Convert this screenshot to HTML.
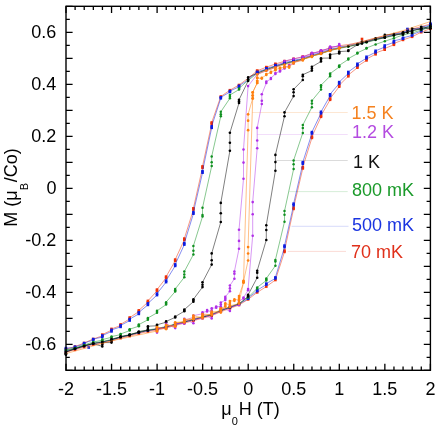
<!DOCTYPE html><html><head><meta charset="utf-8"><style>html,body{margin:0;padding:0;background:#fff}svg{display:block;will-change:transform}text{font-family:"Liberation Sans",sans-serif}</style></head><body>
<svg width="436" height="430" viewBox="0 0 436 430">
<rect width="436" height="430" fill="#fff"/>
<path d="M252.3 112.5H347.7" stroke="#fcdcc0" stroke-width="0.7" fill="none"/>
<path d="M257.2 134.5H347.7" stroke="#ecd0f8" stroke-width="0.7" fill="none"/>
<path d="M275.5 160.5H347.7" stroke="#cccccc" stroke-width="0.7" fill="none"/>
<path d="M289.4 191.6H347.7" stroke="#c4e6c8" stroke-width="0.7" fill="none"/>
<path d="M291.5 226.3H348.5" stroke="#c6ccf8" stroke-width="0.7" fill="none"/>
<path d="M287.8 251.4H346" stroke="#f9cdc4" stroke-width="0.7" fill="none"/>
<path d="M430.3 24.1 L421.2 26.6 L412.1 29.1 L403.0 31.4 L393.9 33.6 L384.8 35.6 L375.6 37.9 L366.5 40.3 L357.4 42.7 L348.3 44.6 L339.2 45.7 L330.1 47.9 L321.0 51.0 L311.9 53.5 L302.8 56.8 L293.6 59.0 L284.5 61.2 L275.4 64.0 L266.3 67.2 L257.2 70.8 L248.1 78.3 L239.0 85.0 L229.9 90.2 L220.8 96.5 L211.7 122.5 L211.7 123.8 L202.5 166.4 L202.5 167.8 L193.4 208.3 L193.4 209.7 L184.3 238.7 L184.3 239.9 L175.2 259.6 L175.2 260.9 L166.1 276.6 L166.1 277.9 L157.0 289.6 L157.0 290.9 L147.9 300.9 L147.9 302.2 L138.8 310.4 L138.8 311.6 L129.7 317.6 L129.7 318.9 L120.6 324.4 L120.6 325.6 L111.5 328.9 L111.5 330.2 L102.3 334.6 L102.3 335.9 L93.2 339.0 L84.1 343.0 L75.0 346.6 L65.9 349.2" stroke="#ee3008" stroke-width="0.5" fill="none" stroke-linejoin="round"/>
<path d="M65.9 352.0 L75.0 349.8 L84.1 347.0 L93.2 344.6 L102.3 343.0 L111.5 341.0 L120.6 338.1 L129.7 336.0 L138.8 333.5 L147.9 331.5 L157.0 330.0 L166.1 328.0 L175.2 325.5 L184.3 323.0 L193.4 320.7 L202.5 318.2 L211.7 315.8 L220.8 311.7 L229.9 308.4 L239.0 305.0 L248.1 299.4 L257.2 292.4 L266.3 286.6 L275.4 280.0 L284.5 251.9 L284.5 250.7 L293.6 208.9 L293.6 207.7 L302.8 168.4 L302.8 167.2 L311.9 137.9 L311.9 136.7 L321.0 116.8 L321.0 115.5 L330.1 99.8 L330.1 98.5 L339.2 86.7 L339.2 85.3 L348.3 76.2 L348.3 75.0 L357.4 67.7 L357.4 66.3 L366.5 60.4 L366.5 59.0 L375.6 54.2 L375.6 53.0 L384.8 49.6 L384.8 48.4 L393.9 44.8 L393.9 43.5 L403.0 39.9 L412.1 36.8 L421.2 32.2 L430.3 28.7" stroke="#ee3008" stroke-width="0.5" fill="none" stroke-linejoin="round"/>
<rect x="328.8" y="46.6" width="2.6" height="2.6" fill="#ee3008"/>
<rect x="319.7" y="49.7" width="2.6" height="2.6" fill="#ee3008"/>
<rect x="310.6" y="52.2" width="2.6" height="2.6" fill="#ee3008"/>
<rect x="301.5" y="55.5" width="2.6" height="2.6" fill="#ee3008"/>
<rect x="292.3" y="57.7" width="2.6" height="2.6" fill="#ee3008"/>
<rect x="283.2" y="59.9" width="2.6" height="2.6" fill="#ee3008"/>
<rect x="274.1" y="62.7" width="2.6" height="2.6" fill="#ee3008"/>
<rect x="265.0" y="65.9" width="2.6" height="2.6" fill="#ee3008"/>
<rect x="255.9" y="69.5" width="2.6" height="2.6" fill="#ee3008"/>
<rect x="237.7" y="83.7" width="2.6" height="2.6" fill="#ee3008"/>
<rect x="228.6" y="88.9" width="2.6" height="2.6" fill="#ee3008"/>
<rect x="219.5" y="95.2" width="2.6" height="2.6" fill="#ee3008"/>
<rect x="210.4" y="121.2" width="2.6" height="2.6" fill="#ee3008"/>
<rect x="210.4" y="122.5" width="2.6" height="2.6" fill="#ee3008"/>
<rect x="201.2" y="165.1" width="2.6" height="2.6" fill="#ee3008"/>
<rect x="201.2" y="166.4" width="2.6" height="2.6" fill="#ee3008"/>
<rect x="192.1" y="207.0" width="2.6" height="2.6" fill="#ee3008"/>
<rect x="192.1" y="208.3" width="2.6" height="2.6" fill="#ee3008"/>
<rect x="183.0" y="237.3" width="2.6" height="2.6" fill="#ee3008"/>
<rect x="183.0" y="238.6" width="2.6" height="2.6" fill="#ee3008"/>
<rect x="173.9" y="258.3" width="2.6" height="2.6" fill="#ee3008"/>
<rect x="173.9" y="259.6" width="2.6" height="2.6" fill="#ee3008"/>
<rect x="164.8" y="275.3" width="2.6" height="2.6" fill="#ee3008"/>
<rect x="164.8" y="276.6" width="2.6" height="2.6" fill="#ee3008"/>
<rect x="155.7" y="288.3" width="2.6" height="2.6" fill="#ee3008"/>
<rect x="155.7" y="289.6" width="2.6" height="2.6" fill="#ee3008"/>
<rect x="146.6" y="299.6" width="2.6" height="2.6" fill="#ee3008"/>
<rect x="146.6" y="300.9" width="2.6" height="2.6" fill="#ee3008"/>
<rect x="137.5" y="309.1" width="2.6" height="2.6" fill="#ee3008"/>
<rect x="137.5" y="310.3" width="2.6" height="2.6" fill="#ee3008"/>
<rect x="128.4" y="316.2" width="2.6" height="2.6" fill="#ee3008"/>
<rect x="128.4" y="317.6" width="2.6" height="2.6" fill="#ee3008"/>
<rect x="119.3" y="323.1" width="2.6" height="2.6" fill="#ee3008"/>
<rect x="119.3" y="324.3" width="2.6" height="2.6" fill="#ee3008"/>
<rect x="110.2" y="327.6" width="2.6" height="2.6" fill="#ee3008"/>
<rect x="110.2" y="328.9" width="2.6" height="2.6" fill="#ee3008"/>
<rect x="101.0" y="333.3" width="2.6" height="2.6" fill="#ee3008"/>
<rect x="101.0" y="334.6" width="2.6" height="2.6" fill="#ee3008"/>
<rect x="91.9" y="337.7" width="2.6" height="2.6" fill="#ee3008"/>
<rect x="82.8" y="341.7" width="2.6" height="2.6" fill="#ee3008"/>
<rect x="73.7" y="345.3" width="2.6" height="2.6" fill="#ee3008"/>
<rect x="64.6" y="347.9" width="2.6" height="2.6" fill="#ee3008"/>
<rect x="64.6" y="350.7" width="2.6" height="2.6" fill="#ee3008"/>
<rect x="73.7" y="348.5" width="2.6" height="2.6" fill="#ee3008"/>
<rect x="82.8" y="345.7" width="2.6" height="2.6" fill="#ee3008"/>
<rect x="91.9" y="343.3" width="2.6" height="2.6" fill="#ee3008"/>
<rect x="101.0" y="341.7" width="2.6" height="2.6" fill="#ee3008"/>
<rect x="110.2" y="339.7" width="2.6" height="2.6" fill="#ee3008"/>
<rect x="119.3" y="336.8" width="2.6" height="2.6" fill="#ee3008"/>
<rect x="128.4" y="334.7" width="2.6" height="2.6" fill="#ee3008"/>
<rect x="137.5" y="332.2" width="2.6" height="2.6" fill="#ee3008"/>
<rect x="146.6" y="330.2" width="2.6" height="2.6" fill="#ee3008"/>
<rect x="155.7" y="328.7" width="2.6" height="2.6" fill="#ee3008"/>
<rect x="164.8" y="326.7" width="2.6" height="2.6" fill="#ee3008"/>
<rect x="173.9" y="324.2" width="2.6" height="2.6" fill="#ee3008"/>
<rect x="183.0" y="321.7" width="2.6" height="2.6" fill="#ee3008"/>
<rect x="192.1" y="319.4" width="2.6" height="2.6" fill="#ee3008"/>
<rect x="201.2" y="316.9" width="2.6" height="2.6" fill="#ee3008"/>
<rect x="210.4" y="314.5" width="2.6" height="2.6" fill="#ee3008"/>
<rect x="219.5" y="310.4" width="2.6" height="2.6" fill="#ee3008"/>
<rect x="228.6" y="307.1" width="2.6" height="2.6" fill="#ee3008"/>
<rect x="237.7" y="303.7" width="2.6" height="2.6" fill="#ee3008"/>
<rect x="246.8" y="298.1" width="2.6" height="2.6" fill="#ee3008"/>
<rect x="255.9" y="291.1" width="2.6" height="2.6" fill="#ee3008"/>
<rect x="265.0" y="285.3" width="2.6" height="2.6" fill="#ee3008"/>
<rect x="274.1" y="278.7" width="2.6" height="2.6" fill="#ee3008"/>
<rect x="283.2" y="250.6" width="2.6" height="2.6" fill="#ee3008"/>
<rect x="283.2" y="249.3" width="2.6" height="2.6" fill="#ee3008"/>
<rect x="292.3" y="207.6" width="2.6" height="2.6" fill="#ee3008"/>
<rect x="292.3" y="206.3" width="2.6" height="2.6" fill="#ee3008"/>
<rect x="301.5" y="167.1" width="2.6" height="2.6" fill="#ee3008"/>
<rect x="301.5" y="165.8" width="2.6" height="2.6" fill="#ee3008"/>
<rect x="310.6" y="136.6" width="2.6" height="2.6" fill="#ee3008"/>
<rect x="310.6" y="135.3" width="2.6" height="2.6" fill="#ee3008"/>
<rect x="319.7" y="115.5" width="2.6" height="2.6" fill="#ee3008"/>
<rect x="319.7" y="114.2" width="2.6" height="2.6" fill="#ee3008"/>
<rect x="328.8" y="98.5" width="2.6" height="2.6" fill="#ee3008"/>
<rect x="328.8" y="97.2" width="2.6" height="2.6" fill="#ee3008"/>
<rect x="337.9" y="85.4" width="2.6" height="2.6" fill="#ee3008"/>
<rect x="337.9" y="84.0" width="2.6" height="2.6" fill="#ee3008"/>
<rect x="347.0" y="75.0" width="2.6" height="2.6" fill="#ee3008"/>
<rect x="347.0" y="73.7" width="2.6" height="2.6" fill="#ee3008"/>
<rect x="356.1" y="66.4" width="2.6" height="2.6" fill="#ee3008"/>
<rect x="356.1" y="65.0" width="2.6" height="2.6" fill="#ee3008"/>
<rect x="365.2" y="59.1" width="2.6" height="2.6" fill="#ee3008"/>
<rect x="365.2" y="57.8" width="2.6" height="2.6" fill="#ee3008"/>
<rect x="374.3" y="53.0" width="2.6" height="2.6" fill="#ee3008"/>
<rect x="374.3" y="51.7" width="2.6" height="2.6" fill="#ee3008"/>
<rect x="383.4" y="48.4" width="2.6" height="2.6" fill="#ee3008"/>
<rect x="383.4" y="47.1" width="2.6" height="2.6" fill="#ee3008"/>
<rect x="392.6" y="43.5" width="2.6" height="2.6" fill="#ee3008"/>
<rect x="392.6" y="42.2" width="2.6" height="2.6" fill="#ee3008"/>
<rect x="401.7" y="38.6" width="2.6" height="2.6" fill="#ee3008"/>
<rect x="410.8" y="35.5" width="2.6" height="2.6" fill="#ee3008"/>
<rect x="419.9" y="30.9" width="2.6" height="2.6" fill="#ee3008"/>
<rect x="429.0" y="27.4" width="2.6" height="2.6" fill="#ee3008"/>
<path d="M430.3 24.6 L430.3 25.4 L421.2 27.1 L421.2 27.9 L412.1 29.6 L412.1 30.4 L403.0 31.9 L403.0 32.7 L393.9 34.1 L393.9 34.9 L384.8 36.1 L384.8 36.9 L375.6 38.4 L375.6 39.2 L366.5 40.8 L366.5 41.6 L357.4 43.2 L357.4 44.0 L348.3 45.1 L348.3 45.9 L339.2 46.8 L339.2 47.6 L330.1 49.0 L330.1 49.8 L321.0 52.1 L321.0 52.9 L311.9 54.6 L311.9 55.4 L302.8 57.9 L302.8 58.7 L293.6 60.1 L293.6 60.9 L284.5 62.3 L284.5 63.1 L275.4 65.1 L275.4 65.9 L266.3 68.3 L266.3 69.1 L257.2 71.9 L257.2 72.7 L248.1 79.0 L248.1 80.0 L239.0 85.8 L239.0 86.8 L229.9 91.0 L229.9 92.0 L220.8 97.3 L220.8 98.2 L211.7 126.2 L211.7 127.8 L202.5 171.2 L202.5 172.8 L193.4 212.2 L193.4 213.8 L184.3 243.2 L184.3 244.7 L175.2 264.4 L175.2 265.9 L166.1 280.6 L166.1 282.1 L157.0 293.6 L157.0 295.1 L147.9 303.4 L147.9 304.9 L138.8 312.4 L138.8 313.9 L129.7 319.1 L129.7 320.6 L120.6 325.4 L120.6 326.9 L111.5 329.9 L111.5 331.4 L102.3 335.6 L102.3 337.1 L93.2 339.1 L93.2 340.1 L84.1 343.1 L84.1 344.1 L75.0 346.8 L75.0 347.6 L65.9 348.1 L65.9 349.1" stroke="#0c1ce0" stroke-width="0.5" fill="none" stroke-linejoin="round"/>
<path d="M65.9 351.0 L75.0 348.8 L84.1 346.0 L93.2 343.6 L102.3 342.0 L111.5 340.0 L120.6 337.1 L129.7 335.0 L138.8 332.5 L147.9 330.5 L157.0 329.0 L166.1 327.0 L175.2 324.5 L184.3 322.0 L193.4 319.7 L202.5 317.2 L211.7 314.8 L220.8 310.7 L229.9 307.4 L239.0 304.0 L248.1 298.8 L248.1 297.9 L257.2 291.1 L257.2 290.2 L266.3 284.6 L266.3 283.6 L275.4 278.4 L275.4 277.4 L284.5 247.2 L284.5 245.7 L293.6 205.2 L293.6 203.8 L302.8 163.8 L302.8 162.2 L311.9 133.6 L311.9 132.1 L321.0 113.2 L321.0 111.8 L330.1 95.8 L330.1 94.2 L339.2 83.5 L339.2 82.0 L348.3 73.5 L348.3 72.0 L357.4 65.2 L357.4 63.8 L366.5 58.2 L366.5 56.8 L375.6 52.2 L375.6 50.8 L384.8 47.0 L384.8 45.5 L393.9 42.4 L393.9 40.9 L403.0 38.6 L403.0 37.8 L412.1 35.5 L412.1 34.5 L421.2 31.2 L421.2 30.4 L430.3 25.1 L430.3 24.1" stroke="#0c1ce0" stroke-width="0.5" fill="none" stroke-linejoin="round"/>
<rect x="328.8" y="47.7" width="2.6" height="2.6" fill="#0c1ce0"/>
<rect x="328.8" y="48.5" width="2.6" height="2.6" fill="#0c1ce0"/>
<rect x="319.7" y="50.8" width="2.6" height="2.6" fill="#0c1ce0"/>
<rect x="319.7" y="51.6" width="2.6" height="2.6" fill="#0c1ce0"/>
<rect x="310.6" y="53.3" width="2.6" height="2.6" fill="#0c1ce0"/>
<rect x="310.6" y="54.1" width="2.6" height="2.6" fill="#0c1ce0"/>
<rect x="301.5" y="56.6" width="2.6" height="2.6" fill="#0c1ce0"/>
<rect x="301.5" y="57.4" width="2.6" height="2.6" fill="#0c1ce0"/>
<rect x="292.3" y="58.8" width="2.6" height="2.6" fill="#0c1ce0"/>
<rect x="292.3" y="59.6" width="2.6" height="2.6" fill="#0c1ce0"/>
<rect x="283.2" y="61.0" width="2.6" height="2.6" fill="#0c1ce0"/>
<rect x="283.2" y="61.8" width="2.6" height="2.6" fill="#0c1ce0"/>
<rect x="274.1" y="63.8" width="2.6" height="2.6" fill="#0c1ce0"/>
<rect x="274.1" y="64.6" width="2.6" height="2.6" fill="#0c1ce0"/>
<rect x="265.0" y="67.0" width="2.6" height="2.6" fill="#0c1ce0"/>
<rect x="265.0" y="67.8" width="2.6" height="2.6" fill="#0c1ce0"/>
<rect x="255.9" y="70.6" width="2.6" height="2.6" fill="#0c1ce0"/>
<rect x="255.9" y="71.4" width="2.6" height="2.6" fill="#0c1ce0"/>
<rect x="237.7" y="84.5" width="2.6" height="2.6" fill="#0c1ce0"/>
<rect x="237.7" y="85.5" width="2.6" height="2.6" fill="#0c1ce0"/>
<rect x="228.6" y="89.8" width="2.6" height="2.6" fill="#0c1ce0"/>
<rect x="228.6" y="90.7" width="2.6" height="2.6" fill="#0c1ce0"/>
<rect x="219.5" y="96.0" width="2.6" height="2.6" fill="#0c1ce0"/>
<rect x="219.5" y="97.0" width="2.6" height="2.6" fill="#0c1ce0"/>
<rect x="210.4" y="125.0" width="2.6" height="2.6" fill="#0c1ce0"/>
<rect x="210.4" y="126.5" width="2.6" height="2.6" fill="#0c1ce0"/>
<rect x="201.2" y="169.9" width="2.6" height="2.6" fill="#0c1ce0"/>
<rect x="201.2" y="171.4" width="2.6" height="2.6" fill="#0c1ce0"/>
<rect x="192.1" y="210.9" width="2.6" height="2.6" fill="#0c1ce0"/>
<rect x="192.1" y="212.4" width="2.6" height="2.6" fill="#0c1ce0"/>
<rect x="183.0" y="241.8" width="2.6" height="2.6" fill="#0c1ce0"/>
<rect x="183.0" y="243.3" width="2.6" height="2.6" fill="#0c1ce0"/>
<rect x="173.9" y="263.1" width="2.6" height="2.6" fill="#0c1ce0"/>
<rect x="173.9" y="264.6" width="2.6" height="2.6" fill="#0c1ce0"/>
<rect x="164.8" y="279.3" width="2.6" height="2.6" fill="#0c1ce0"/>
<rect x="164.8" y="280.8" width="2.6" height="2.6" fill="#0c1ce0"/>
<rect x="155.7" y="292.3" width="2.6" height="2.6" fill="#0c1ce0"/>
<rect x="155.7" y="293.8" width="2.6" height="2.6" fill="#0c1ce0"/>
<rect x="146.6" y="302.1" width="2.6" height="2.6" fill="#0c1ce0"/>
<rect x="146.6" y="303.6" width="2.6" height="2.6" fill="#0c1ce0"/>
<rect x="137.5" y="311.1" width="2.6" height="2.6" fill="#0c1ce0"/>
<rect x="137.5" y="312.6" width="2.6" height="2.6" fill="#0c1ce0"/>
<rect x="128.4" y="317.8" width="2.6" height="2.6" fill="#0c1ce0"/>
<rect x="128.4" y="319.2" width="2.6" height="2.6" fill="#0c1ce0"/>
<rect x="119.3" y="324.1" width="2.6" height="2.6" fill="#0c1ce0"/>
<rect x="119.3" y="325.6" width="2.6" height="2.6" fill="#0c1ce0"/>
<rect x="110.2" y="328.6" width="2.6" height="2.6" fill="#0c1ce0"/>
<rect x="110.2" y="330.1" width="2.6" height="2.6" fill="#0c1ce0"/>
<rect x="101.0" y="334.2" width="2.6" height="2.6" fill="#0c1ce0"/>
<rect x="101.0" y="335.8" width="2.6" height="2.6" fill="#0c1ce0"/>
<rect x="91.9" y="337.8" width="2.6" height="2.6" fill="#0c1ce0"/>
<rect x="91.9" y="338.8" width="2.6" height="2.6" fill="#0c1ce0"/>
<rect x="82.8" y="341.8" width="2.6" height="2.6" fill="#0c1ce0"/>
<rect x="82.8" y="342.8" width="2.6" height="2.6" fill="#0c1ce0"/>
<rect x="73.7" y="345.4" width="2.6" height="2.6" fill="#0c1ce0"/>
<rect x="73.7" y="346.3" width="2.6" height="2.6" fill="#0c1ce0"/>
<rect x="64.6" y="346.8" width="2.6" height="2.6" fill="#0c1ce0"/>
<rect x="64.6" y="347.8" width="2.6" height="2.6" fill="#0c1ce0"/>
<rect x="64.6" y="349.7" width="2.6" height="2.6" fill="#0c1ce0"/>
<rect x="73.7" y="347.5" width="2.6" height="2.6" fill="#0c1ce0"/>
<rect x="82.8" y="344.7" width="2.6" height="2.6" fill="#0c1ce0"/>
<rect x="91.9" y="342.3" width="2.6" height="2.6" fill="#0c1ce0"/>
<rect x="101.0" y="340.7" width="2.6" height="2.6" fill="#0c1ce0"/>
<rect x="110.2" y="338.7" width="2.6" height="2.6" fill="#0c1ce0"/>
<rect x="119.3" y="335.8" width="2.6" height="2.6" fill="#0c1ce0"/>
<rect x="128.4" y="333.7" width="2.6" height="2.6" fill="#0c1ce0"/>
<rect x="137.5" y="331.2" width="2.6" height="2.6" fill="#0c1ce0"/>
<rect x="146.6" y="329.2" width="2.6" height="2.6" fill="#0c1ce0"/>
<rect x="155.7" y="327.7" width="2.6" height="2.6" fill="#0c1ce0"/>
<rect x="164.8" y="325.7" width="2.6" height="2.6" fill="#0c1ce0"/>
<rect x="173.9" y="323.2" width="2.6" height="2.6" fill="#0c1ce0"/>
<rect x="183.0" y="320.7" width="2.6" height="2.6" fill="#0c1ce0"/>
<rect x="192.1" y="318.4" width="2.6" height="2.6" fill="#0c1ce0"/>
<rect x="201.2" y="315.9" width="2.6" height="2.6" fill="#0c1ce0"/>
<rect x="210.4" y="313.5" width="2.6" height="2.6" fill="#0c1ce0"/>
<rect x="219.5" y="309.4" width="2.6" height="2.6" fill="#0c1ce0"/>
<rect x="228.6" y="306.1" width="2.6" height="2.6" fill="#0c1ce0"/>
<rect x="237.7" y="302.7" width="2.6" height="2.6" fill="#0c1ce0"/>
<rect x="246.8" y="297.4" width="2.6" height="2.6" fill="#0c1ce0"/>
<rect x="246.8" y="296.6" width="2.6" height="2.6" fill="#0c1ce0"/>
<rect x="255.9" y="289.8" width="2.6" height="2.6" fill="#0c1ce0"/>
<rect x="255.9" y="288.9" width="2.6" height="2.6" fill="#0c1ce0"/>
<rect x="265.0" y="283.2" width="2.6" height="2.6" fill="#0c1ce0"/>
<rect x="265.0" y="282.3" width="2.6" height="2.6" fill="#0c1ce0"/>
<rect x="274.1" y="277.1" width="2.6" height="2.6" fill="#0c1ce0"/>
<rect x="274.1" y="276.1" width="2.6" height="2.6" fill="#0c1ce0"/>
<rect x="283.2" y="245.8" width="2.6" height="2.6" fill="#0c1ce0"/>
<rect x="283.2" y="244.3" width="2.6" height="2.6" fill="#0c1ce0"/>
<rect x="292.3" y="203.9" width="2.6" height="2.6" fill="#0c1ce0"/>
<rect x="292.3" y="202.4" width="2.6" height="2.6" fill="#0c1ce0"/>
<rect x="301.5" y="162.4" width="2.6" height="2.6" fill="#0c1ce0"/>
<rect x="301.5" y="160.9" width="2.6" height="2.6" fill="#0c1ce0"/>
<rect x="310.6" y="132.2" width="2.6" height="2.6" fill="#0c1ce0"/>
<rect x="310.6" y="130.8" width="2.6" height="2.6" fill="#0c1ce0"/>
<rect x="319.7" y="112.0" width="2.6" height="2.6" fill="#0c1ce0"/>
<rect x="319.7" y="110.5" width="2.6" height="2.6" fill="#0c1ce0"/>
<rect x="328.8" y="94.5" width="2.6" height="2.6" fill="#0c1ce0"/>
<rect x="328.8" y="93.0" width="2.6" height="2.6" fill="#0c1ce0"/>
<rect x="337.9" y="82.2" width="2.6" height="2.6" fill="#0c1ce0"/>
<rect x="337.9" y="80.8" width="2.6" height="2.6" fill="#0c1ce0"/>
<rect x="347.0" y="72.2" width="2.6" height="2.6" fill="#0c1ce0"/>
<rect x="347.0" y="70.7" width="2.6" height="2.6" fill="#0c1ce0"/>
<rect x="356.1" y="64.0" width="2.6" height="2.6" fill="#0c1ce0"/>
<rect x="356.1" y="62.5" width="2.6" height="2.6" fill="#0c1ce0"/>
<rect x="365.2" y="57.0" width="2.6" height="2.6" fill="#0c1ce0"/>
<rect x="365.2" y="55.5" width="2.6" height="2.6" fill="#0c1ce0"/>
<rect x="374.3" y="51.0" width="2.6" height="2.6" fill="#0c1ce0"/>
<rect x="374.3" y="49.5" width="2.6" height="2.6" fill="#0c1ce0"/>
<rect x="383.4" y="45.8" width="2.6" height="2.6" fill="#0c1ce0"/>
<rect x="383.4" y="44.2" width="2.6" height="2.6" fill="#0c1ce0"/>
<rect x="392.6" y="41.1" width="2.6" height="2.6" fill="#0c1ce0"/>
<rect x="392.6" y="39.6" width="2.6" height="2.6" fill="#0c1ce0"/>
<rect x="401.7" y="37.4" width="2.6" height="2.6" fill="#0c1ce0"/>
<rect x="401.7" y="36.5" width="2.6" height="2.6" fill="#0c1ce0"/>
<rect x="410.8" y="34.2" width="2.6" height="2.6" fill="#0c1ce0"/>
<rect x="410.8" y="33.2" width="2.6" height="2.6" fill="#0c1ce0"/>
<rect x="419.9" y="29.9" width="2.6" height="2.6" fill="#0c1ce0"/>
<rect x="419.9" y="29.1" width="2.6" height="2.6" fill="#0c1ce0"/>
<rect x="429.0" y="23.8" width="2.6" height="2.6" fill="#0c1ce0"/>
<rect x="429.0" y="22.8" width="2.6" height="2.6" fill="#0c1ce0"/>
<path d="M430.3 26.2 L421.2 28.7 L412.1 31.2 L403.0 33.5 L393.9 35.7 L384.8 37.7 L375.6 40.0 L366.5 42.4 L357.4 44.8 L348.3 46.7 L339.2 48.4 L330.1 50.6 L321.0 53.7 L311.9 56.2 L302.8 59.5 L293.6 61.7 L284.5 63.9 L275.4 66.7 L266.3 69.9 L257.2 73.5 L248.1 80.3 L239.0 88.4 L239.0 89.6 L229.9 95.0 L229.9 96.8 L229.9 98.3 L220.8 111.8 L220.8 114.2 L220.8 116.2 L211.7 156.4 L211.7 162.2 L211.7 166.1 L202.5 207.8 L202.5 215.0 L202.5 216.6 L193.4 245.9 L193.4 250.8 L193.4 254.5 L184.3 271.6 L184.3 274.6 L184.3 277.3 L175.2 289.0 L175.2 290.3 L175.2 291.5 L166.1 302.2 L166.1 303.4 L166.1 304.6 L157.0 310.8 L157.0 311.8 L157.0 312.8 L147.9 318.0 L147.9 318.8 L147.9 319.8 L138.8 324.6 L138.8 325.3 L138.8 326.2 L129.7 329.2 L129.7 329.8 L129.7 330.6 L120.6 334.0 L120.6 334.6 L111.5 336.6 L111.5 337.3 L102.3 339.6 L102.3 340.2 L93.2 342.0 L84.1 345.0 L75.0 348.0 L65.9 350.0" stroke="#109020" stroke-width="0.5" fill="none" stroke-linejoin="round"/>
<path d="M65.9 350.5 L75.0 348.3 L84.1 345.5 L93.2 343.1 L102.3 341.5 L111.5 339.5 L120.6 336.6 L129.7 334.5 L138.8 332.0 L147.9 330.0 L157.0 328.5 L166.1 326.5 L175.2 324.0 L184.3 321.5 L193.4 319.2 L202.5 316.7 L211.7 314.3 L220.8 310.2 L229.9 306.9 L239.0 303.5 L248.1 297.4 L257.2 288.4 L257.2 287.4 L266.3 280.5 L266.3 279.4 L266.3 278.5 L275.4 265.7 L275.4 261.6 L275.4 259.9 L284.5 221.7 L284.5 214.7 L284.5 211.1 L293.6 169.1 L293.6 164.2 L293.6 160.4 L302.8 132.9 L302.8 128.0 L302.8 125.1 L311.9 107.2 L311.9 103.6 L311.9 100.7 L321.0 89.6 L321.0 87.0 L321.0 85.2 L330.1 76.2 L330.1 74.8 L330.1 73.6 L339.2 67.0 L339.2 66.2 L339.2 65.4 L348.3 59.4 L348.3 58.6 L357.4 53.6 L357.4 52.8 L366.5 48.6 L366.5 48.0 L375.6 44.4 L384.8 41.2 L393.9 38.2 L403.0 35.0 L412.1 32.9 L421.2 30.1 L430.3 27.3" stroke="#109020" stroke-width="0.5" fill="none" stroke-linejoin="round"/>
<circle cx="430.3" cy="26.2" r="1.25" fill="#109020"/>
<circle cx="421.2" cy="28.7" r="1.25" fill="#109020"/>
<circle cx="412.1" cy="31.2" r="1.25" fill="#109020"/>
<circle cx="403.0" cy="33.5" r="1.25" fill="#109020"/>
<circle cx="393.9" cy="35.7" r="1.25" fill="#109020"/>
<circle cx="384.8" cy="37.7" r="1.25" fill="#109020"/>
<circle cx="375.6" cy="40.0" r="1.25" fill="#109020"/>
<circle cx="366.5" cy="42.4" r="1.25" fill="#109020"/>
<circle cx="357.4" cy="44.8" r="1.25" fill="#109020"/>
<circle cx="348.3" cy="46.7" r="1.25" fill="#109020"/>
<circle cx="339.2" cy="48.4" r="1.25" fill="#109020"/>
<circle cx="330.1" cy="50.6" r="1.25" fill="#109020"/>
<circle cx="321.0" cy="53.7" r="1.25" fill="#109020"/>
<circle cx="311.9" cy="56.2" r="1.25" fill="#109020"/>
<circle cx="302.8" cy="59.5" r="1.25" fill="#109020"/>
<circle cx="293.6" cy="61.7" r="1.25" fill="#109020"/>
<circle cx="284.5" cy="63.9" r="1.25" fill="#109020"/>
<circle cx="275.4" cy="66.7" r="1.25" fill="#109020"/>
<circle cx="266.3" cy="69.9" r="1.25" fill="#109020"/>
<circle cx="257.2" cy="73.5" r="1.25" fill="#109020"/>
<circle cx="248.1" cy="80.3" r="1.25" fill="#109020"/>
<circle cx="239.0" cy="88.4" r="1.25" fill="#109020"/>
<circle cx="239.0" cy="89.6" r="1.25" fill="#109020"/>
<circle cx="229.9" cy="95.0" r="1.25" fill="#109020"/>
<circle cx="229.9" cy="96.8" r="1.25" fill="#109020"/>
<circle cx="229.9" cy="98.3" r="1.25" fill="#109020"/>
<circle cx="220.8" cy="111.8" r="1.25" fill="#109020"/>
<circle cx="220.8" cy="114.2" r="1.25" fill="#109020"/>
<circle cx="220.8" cy="116.2" r="1.25" fill="#109020"/>
<circle cx="211.7" cy="156.4" r="1.25" fill="#109020"/>
<circle cx="211.7" cy="162.2" r="1.25" fill="#109020"/>
<circle cx="211.7" cy="166.1" r="1.25" fill="#109020"/>
<circle cx="202.5" cy="207.8" r="1.25" fill="#109020"/>
<circle cx="202.5" cy="215.0" r="1.25" fill="#109020"/>
<circle cx="202.5" cy="216.6" r="1.25" fill="#109020"/>
<circle cx="193.4" cy="245.9" r="1.25" fill="#109020"/>
<circle cx="193.4" cy="250.8" r="1.25" fill="#109020"/>
<circle cx="193.4" cy="254.5" r="1.25" fill="#109020"/>
<circle cx="184.3" cy="271.6" r="1.25" fill="#109020"/>
<circle cx="184.3" cy="274.6" r="1.25" fill="#109020"/>
<circle cx="184.3" cy="277.3" r="1.25" fill="#109020"/>
<circle cx="175.2" cy="289.0" r="1.25" fill="#109020"/>
<circle cx="175.2" cy="290.3" r="1.25" fill="#109020"/>
<circle cx="175.2" cy="291.5" r="1.25" fill="#109020"/>
<circle cx="166.1" cy="302.2" r="1.25" fill="#109020"/>
<circle cx="166.1" cy="303.4" r="1.25" fill="#109020"/>
<circle cx="166.1" cy="304.6" r="1.25" fill="#109020"/>
<circle cx="157.0" cy="310.8" r="1.25" fill="#109020"/>
<circle cx="157.0" cy="311.8" r="1.25" fill="#109020"/>
<circle cx="157.0" cy="312.8" r="1.25" fill="#109020"/>
<circle cx="147.9" cy="318.0" r="1.25" fill="#109020"/>
<circle cx="147.9" cy="318.8" r="1.25" fill="#109020"/>
<circle cx="147.9" cy="319.8" r="1.25" fill="#109020"/>
<circle cx="138.8" cy="324.6" r="1.25" fill="#109020"/>
<circle cx="138.8" cy="325.3" r="1.25" fill="#109020"/>
<circle cx="138.8" cy="326.2" r="1.25" fill="#109020"/>
<circle cx="129.7" cy="329.2" r="1.25" fill="#109020"/>
<circle cx="129.7" cy="329.8" r="1.25" fill="#109020"/>
<circle cx="129.7" cy="330.6" r="1.25" fill="#109020"/>
<circle cx="120.6" cy="334.0" r="1.25" fill="#109020"/>
<circle cx="120.6" cy="334.6" r="1.25" fill="#109020"/>
<circle cx="111.5" cy="336.6" r="1.25" fill="#109020"/>
<circle cx="111.5" cy="337.3" r="1.25" fill="#109020"/>
<circle cx="102.3" cy="339.6" r="1.25" fill="#109020"/>
<circle cx="102.3" cy="340.2" r="1.25" fill="#109020"/>
<circle cx="93.2" cy="342.0" r="1.25" fill="#109020"/>
<circle cx="84.1" cy="345.0" r="1.25" fill="#109020"/>
<circle cx="75.0" cy="348.0" r="1.25" fill="#109020"/>
<circle cx="65.9" cy="350.0" r="1.25" fill="#109020"/>
<circle cx="65.9" cy="350.5" r="1.25" fill="#109020"/>
<circle cx="75.0" cy="348.3" r="1.25" fill="#109020"/>
<circle cx="84.1" cy="345.5" r="1.25" fill="#109020"/>
<circle cx="93.2" cy="343.1" r="1.25" fill="#109020"/>
<circle cx="102.3" cy="341.5" r="1.25" fill="#109020"/>
<circle cx="111.5" cy="339.5" r="1.25" fill="#109020"/>
<circle cx="120.6" cy="336.6" r="1.25" fill="#109020"/>
<circle cx="129.7" cy="334.5" r="1.25" fill="#109020"/>
<circle cx="138.8" cy="332.0" r="1.25" fill="#109020"/>
<circle cx="147.9" cy="330.0" r="1.25" fill="#109020"/>
<circle cx="157.0" cy="328.5" r="1.25" fill="#109020"/>
<circle cx="166.1" cy="326.5" r="1.25" fill="#109020"/>
<circle cx="175.2" cy="324.0" r="1.25" fill="#109020"/>
<circle cx="184.3" cy="321.5" r="1.25" fill="#109020"/>
<circle cx="193.4" cy="319.2" r="1.25" fill="#109020"/>
<circle cx="202.5" cy="316.7" r="1.25" fill="#109020"/>
<circle cx="211.7" cy="314.3" r="1.25" fill="#109020"/>
<circle cx="220.8" cy="310.2" r="1.25" fill="#109020"/>
<circle cx="229.9" cy="306.9" r="1.25" fill="#109020"/>
<circle cx="239.0" cy="303.5" r="1.25" fill="#109020"/>
<circle cx="248.1" cy="297.4" r="1.25" fill="#109020"/>
<circle cx="257.2" cy="288.4" r="1.25" fill="#109020"/>
<circle cx="257.2" cy="287.4" r="1.25" fill="#109020"/>
<circle cx="266.3" cy="280.5" r="1.25" fill="#109020"/>
<circle cx="266.3" cy="279.4" r="1.25" fill="#109020"/>
<circle cx="266.3" cy="278.5" r="1.25" fill="#109020"/>
<circle cx="275.4" cy="265.7" r="1.25" fill="#109020"/>
<circle cx="275.4" cy="261.6" r="1.25" fill="#109020"/>
<circle cx="275.4" cy="259.9" r="1.25" fill="#109020"/>
<circle cx="284.5" cy="221.7" r="1.25" fill="#109020"/>
<circle cx="284.5" cy="214.7" r="1.25" fill="#109020"/>
<circle cx="284.5" cy="211.1" r="1.25" fill="#109020"/>
<circle cx="293.6" cy="169.1" r="1.25" fill="#109020"/>
<circle cx="293.6" cy="164.2" r="1.25" fill="#109020"/>
<circle cx="293.6" cy="160.4" r="1.25" fill="#109020"/>
<circle cx="302.8" cy="132.9" r="1.25" fill="#109020"/>
<circle cx="302.8" cy="128.0" r="1.25" fill="#109020"/>
<circle cx="302.8" cy="125.1" r="1.25" fill="#109020"/>
<circle cx="311.9" cy="107.2" r="1.25" fill="#109020"/>
<circle cx="311.9" cy="103.6" r="1.25" fill="#109020"/>
<circle cx="311.9" cy="100.7" r="1.25" fill="#109020"/>
<circle cx="321.0" cy="89.6" r="1.25" fill="#109020"/>
<circle cx="321.0" cy="87.0" r="1.25" fill="#109020"/>
<circle cx="321.0" cy="85.2" r="1.25" fill="#109020"/>
<circle cx="330.1" cy="76.2" r="1.25" fill="#109020"/>
<circle cx="330.1" cy="74.8" r="1.25" fill="#109020"/>
<circle cx="330.1" cy="73.6" r="1.25" fill="#109020"/>
<circle cx="339.2" cy="67.0" r="1.25" fill="#109020"/>
<circle cx="339.2" cy="66.2" r="1.25" fill="#109020"/>
<circle cx="339.2" cy="65.4" r="1.25" fill="#109020"/>
<circle cx="348.3" cy="59.4" r="1.25" fill="#109020"/>
<circle cx="348.3" cy="58.6" r="1.25" fill="#109020"/>
<circle cx="357.4" cy="53.6" r="1.25" fill="#109020"/>
<circle cx="357.4" cy="52.8" r="1.25" fill="#109020"/>
<circle cx="366.5" cy="48.6" r="1.25" fill="#109020"/>
<circle cx="366.5" cy="48.0" r="1.25" fill="#109020"/>
<circle cx="375.6" cy="44.4" r="1.25" fill="#109020"/>
<circle cx="384.8" cy="41.2" r="1.25" fill="#109020"/>
<circle cx="393.9" cy="38.2" r="1.25" fill="#109020"/>
<circle cx="403.0" cy="35.0" r="1.25" fill="#109020"/>
<circle cx="412.1" cy="32.9" r="1.25" fill="#109020"/>
<circle cx="421.2" cy="30.1" r="1.25" fill="#109020"/>
<circle cx="430.3" cy="27.3" r="1.25" fill="#109020"/>
<path d="M430.3 24.6 L430.3 26.4 L430.3 28.3 L421.2 28.3 L412.1 30.8 L403.0 33.1 L393.9 35.3 L384.8 37.3 L375.6 39.6 L366.5 42.0 L357.4 44.4 L348.3 46.3 L339.2 48.0 L330.1 50.2 L321.0 53.3 L311.9 55.8 L302.8 59.1 L293.6 61.3 L284.5 63.5 L275.4 66.3 L266.3 69.5 L257.2 73.1 L248.1 77.4 L248.1 79.2 L248.1 81.0 L239.0 99.8 L239.0 101.4 L239.0 103.0 L229.9 132.8 L229.9 142.7 L229.9 150.8 L220.8 202.9 L220.8 213.3 L220.8 222.0 L211.7 253.4 L211.7 260.2 L211.7 264.6 L202.5 282.2 L202.5 284.8 L202.5 287.1 L193.4 299.3 L193.4 300.5 L193.4 301.7 L184.3 309.6 L184.3 310.4 L184.3 311.2 L175.2 316.6 L175.2 317.4 L166.1 321.4 L166.1 322.2 L157.0 324.8 L157.0 325.8 L147.9 326.2 L147.9 328.0 L147.9 330.0 L138.8 331.5 L138.8 332.3 L129.7 334.6 L129.7 335.4 L120.6 336.4 L120.6 337.2 L111.5 339.0 L111.5 340.8 L111.5 342.6 L102.3 342.6 L102.3 344.5 L102.3 346.4 L93.2 343.6 L84.1 346.0 L75.0 348.8 L65.9 352.0 L65.9 353.3 L65.9 354.6" stroke="#000" stroke-width="0.5" fill="none" stroke-linejoin="round"/>
<path d="M65.9 354.6 L65.9 353.3 L65.9 352.0 L75.0 348.8 L84.1 346.0 L93.2 343.6 L102.3 342.0 L111.5 340.0 L120.6 337.1 L129.7 335.0 L138.8 332.5 L147.9 330.5 L157.0 329.0 L166.1 327.0 L175.2 324.5 L184.3 322.0 L193.4 319.7 L202.5 317.2 L211.7 314.8 L220.8 310.7 L229.9 307.4 L239.0 304.0 L248.1 296.5 L248.1 295.6 L248.1 294.8 L257.2 277.7 L257.2 272.7 L257.2 270.7 L266.3 240.0 L266.3 230.0 L266.3 225.2 L275.4 170.8 L275.4 162.1 L275.4 154.9 L284.5 116.2 L284.5 112.4 L293.6 96.1 L293.6 92.2 L293.6 89.3 L302.8 80.0 L302.8 76.3 L302.8 74.7 L311.9 70.6 L311.9 68.6 L311.9 66.8 L321.0 61.5 L321.0 59.8 L321.0 58.2 L330.1 58.0 L330.1 56.0 L330.1 54.5 L339.2 53.4 L339.2 52.6 L339.2 51.6 L348.3 51.0 L348.3 50.4 L357.4 44.8 L357.4 44.0 L362.0 43.6 L362.0 42.6 L362.0 41.6 L366.5 41.7 L375.6 38.3 L384.8 37.8 L384.8 36.3 L384.8 34.9 L393.9 34.1 L403.0 34.4 L403.0 33.2 L403.0 32.2 L407.5 32.6 L407.5 30.8 L407.5 29.6 L412.1 33.0 L412.1 30.8 L412.1 28.6 L421.2 29.6 L421.2 28.2 L421.2 26.8 L430.3 28.3 L430.3 26.4 L430.3 24.6" stroke="#000" stroke-width="0.5" fill="none" stroke-linejoin="round"/>
<circle cx="430.3" cy="24.6" r="1.3" fill="#000"/>
<circle cx="430.3" cy="26.4" r="1.3" fill="#000"/>
<circle cx="430.3" cy="28.3" r="1.3" fill="#000"/>
<circle cx="421.2" cy="28.3" r="1.3" fill="#000"/>
<circle cx="412.1" cy="30.8" r="1.3" fill="#000"/>
<circle cx="403.0" cy="33.1" r="1.3" fill="#000"/>
<circle cx="393.9" cy="35.3" r="1.3" fill="#000"/>
<circle cx="384.8" cy="37.3" r="1.3" fill="#000"/>
<circle cx="375.6" cy="39.6" r="1.3" fill="#000"/>
<circle cx="366.5" cy="42.0" r="1.3" fill="#000"/>
<circle cx="357.4" cy="44.4" r="1.3" fill="#000"/>
<circle cx="348.3" cy="46.3" r="1.3" fill="#000"/>
<circle cx="339.2" cy="48.0" r="1.3" fill="#000"/>
<circle cx="330.1" cy="50.2" r="1.3" fill="#000"/>
<circle cx="321.0" cy="53.3" r="1.3" fill="#000"/>
<circle cx="311.9" cy="55.8" r="1.3" fill="#000"/>
<circle cx="302.8" cy="59.1" r="1.3" fill="#000"/>
<circle cx="293.6" cy="61.3" r="1.3" fill="#000"/>
<circle cx="284.5" cy="63.5" r="1.3" fill="#000"/>
<circle cx="275.4" cy="66.3" r="1.3" fill="#000"/>
<circle cx="266.3" cy="69.5" r="1.3" fill="#000"/>
<circle cx="257.2" cy="73.1" r="1.3" fill="#000"/>
<circle cx="248.1" cy="77.4" r="1.3" fill="#000"/>
<circle cx="248.1" cy="79.2" r="1.3" fill="#000"/>
<circle cx="248.1" cy="81.0" r="1.3" fill="#000"/>
<circle cx="239.0" cy="99.8" r="1.3" fill="#000"/>
<circle cx="239.0" cy="101.4" r="1.3" fill="#000"/>
<circle cx="239.0" cy="103.0" r="1.3" fill="#000"/>
<circle cx="229.9" cy="132.8" r="1.3" fill="#000"/>
<circle cx="229.9" cy="142.7" r="1.3" fill="#000"/>
<circle cx="229.9" cy="150.8" r="1.3" fill="#000"/>
<circle cx="220.8" cy="202.9" r="1.3" fill="#000"/>
<circle cx="220.8" cy="213.3" r="1.3" fill="#000"/>
<circle cx="220.8" cy="222.0" r="1.3" fill="#000"/>
<circle cx="211.7" cy="253.4" r="1.3" fill="#000"/>
<circle cx="211.7" cy="260.2" r="1.3" fill="#000"/>
<circle cx="211.7" cy="264.6" r="1.3" fill="#000"/>
<circle cx="202.5" cy="282.2" r="1.3" fill="#000"/>
<circle cx="202.5" cy="284.8" r="1.3" fill="#000"/>
<circle cx="202.5" cy="287.1" r="1.3" fill="#000"/>
<circle cx="193.4" cy="299.3" r="1.3" fill="#000"/>
<circle cx="193.4" cy="300.5" r="1.3" fill="#000"/>
<circle cx="193.4" cy="301.7" r="1.3" fill="#000"/>
<circle cx="184.3" cy="309.6" r="1.3" fill="#000"/>
<circle cx="184.3" cy="310.4" r="1.3" fill="#000"/>
<circle cx="184.3" cy="311.2" r="1.3" fill="#000"/>
<circle cx="175.2" cy="316.6" r="1.3" fill="#000"/>
<circle cx="175.2" cy="317.4" r="1.3" fill="#000"/>
<circle cx="166.1" cy="321.4" r="1.3" fill="#000"/>
<circle cx="166.1" cy="322.2" r="1.3" fill="#000"/>
<circle cx="157.0" cy="324.8" r="1.3" fill="#000"/>
<circle cx="157.0" cy="325.8" r="1.3" fill="#000"/>
<circle cx="147.9" cy="326.2" r="1.3" fill="#000"/>
<circle cx="147.9" cy="328.0" r="1.3" fill="#000"/>
<circle cx="147.9" cy="330.0" r="1.3" fill="#000"/>
<circle cx="138.8" cy="331.5" r="1.3" fill="#000"/>
<circle cx="138.8" cy="332.3" r="1.3" fill="#000"/>
<circle cx="129.7" cy="334.6" r="1.3" fill="#000"/>
<circle cx="129.7" cy="335.4" r="1.3" fill="#000"/>
<circle cx="120.6" cy="336.4" r="1.3" fill="#000"/>
<circle cx="120.6" cy="337.2" r="1.3" fill="#000"/>
<circle cx="111.5" cy="339.0" r="1.3" fill="#000"/>
<circle cx="111.5" cy="340.8" r="1.3" fill="#000"/>
<circle cx="111.5" cy="342.6" r="1.3" fill="#000"/>
<circle cx="102.3" cy="342.6" r="1.3" fill="#000"/>
<circle cx="102.3" cy="344.5" r="1.3" fill="#000"/>
<circle cx="102.3" cy="346.4" r="1.3" fill="#000"/>
<circle cx="93.2" cy="343.6" r="1.3" fill="#000"/>
<circle cx="84.1" cy="346.0" r="1.3" fill="#000"/>
<circle cx="75.0" cy="348.8" r="1.3" fill="#000"/>
<circle cx="65.9" cy="352.0" r="1.3" fill="#000"/>
<circle cx="65.9" cy="353.3" r="1.3" fill="#000"/>
<circle cx="65.9" cy="354.6" r="1.3" fill="#000"/>
<circle cx="65.9" cy="354.6" r="1.3" fill="#000"/>
<circle cx="65.9" cy="353.3" r="1.3" fill="#000"/>
<circle cx="65.9" cy="352.0" r="1.3" fill="#000"/>
<circle cx="75.0" cy="348.8" r="1.3" fill="#000"/>
<circle cx="84.1" cy="346.0" r="1.3" fill="#000"/>
<circle cx="93.2" cy="343.6" r="1.3" fill="#000"/>
<circle cx="102.3" cy="342.0" r="1.3" fill="#000"/>
<circle cx="111.5" cy="340.0" r="1.3" fill="#000"/>
<circle cx="120.6" cy="337.1" r="1.3" fill="#000"/>
<circle cx="129.7" cy="335.0" r="1.3" fill="#000"/>
<circle cx="138.8" cy="332.5" r="1.3" fill="#000"/>
<circle cx="147.9" cy="330.5" r="1.3" fill="#000"/>
<circle cx="157.0" cy="329.0" r="1.3" fill="#000"/>
<circle cx="166.1" cy="327.0" r="1.3" fill="#000"/>
<circle cx="175.2" cy="324.5" r="1.3" fill="#000"/>
<circle cx="184.3" cy="322.0" r="1.3" fill="#000"/>
<circle cx="193.4" cy="319.7" r="1.3" fill="#000"/>
<circle cx="202.5" cy="317.2" r="1.3" fill="#000"/>
<circle cx="211.7" cy="314.8" r="1.3" fill="#000"/>
<circle cx="220.8" cy="310.7" r="1.3" fill="#000"/>
<circle cx="229.9" cy="307.4" r="1.3" fill="#000"/>
<circle cx="239.0" cy="304.0" r="1.3" fill="#000"/>
<circle cx="248.1" cy="296.5" r="1.3" fill="#000"/>
<circle cx="248.1" cy="295.6" r="1.3" fill="#000"/>
<circle cx="248.1" cy="294.8" r="1.3" fill="#000"/>
<circle cx="257.2" cy="277.7" r="1.3" fill="#000"/>
<circle cx="257.2" cy="272.7" r="1.3" fill="#000"/>
<circle cx="257.2" cy="270.7" r="1.3" fill="#000"/>
<circle cx="266.3" cy="240.0" r="1.3" fill="#000"/>
<circle cx="266.3" cy="230.0" r="1.3" fill="#000"/>
<circle cx="266.3" cy="225.2" r="1.3" fill="#000"/>
<circle cx="275.4" cy="170.8" r="1.3" fill="#000"/>
<circle cx="275.4" cy="162.1" r="1.3" fill="#000"/>
<circle cx="275.4" cy="154.9" r="1.3" fill="#000"/>
<circle cx="284.5" cy="116.2" r="1.3" fill="#000"/>
<circle cx="284.5" cy="112.4" r="1.3" fill="#000"/>
<circle cx="293.6" cy="96.1" r="1.3" fill="#000"/>
<circle cx="293.6" cy="92.2" r="1.3" fill="#000"/>
<circle cx="293.6" cy="89.3" r="1.3" fill="#000"/>
<circle cx="302.8" cy="80.0" r="1.3" fill="#000"/>
<circle cx="302.8" cy="76.3" r="1.3" fill="#000"/>
<circle cx="302.8" cy="74.7" r="1.3" fill="#000"/>
<circle cx="311.9" cy="70.6" r="1.3" fill="#000"/>
<circle cx="311.9" cy="68.6" r="1.3" fill="#000"/>
<circle cx="311.9" cy="66.8" r="1.3" fill="#000"/>
<circle cx="321.0" cy="61.5" r="1.3" fill="#000"/>
<circle cx="321.0" cy="59.8" r="1.3" fill="#000"/>
<circle cx="321.0" cy="58.2" r="1.3" fill="#000"/>
<circle cx="330.1" cy="58.0" r="1.3" fill="#000"/>
<circle cx="330.1" cy="56.0" r="1.3" fill="#000"/>
<circle cx="330.1" cy="54.5" r="1.3" fill="#000"/>
<circle cx="339.2" cy="53.4" r="1.3" fill="#000"/>
<circle cx="339.2" cy="52.6" r="1.3" fill="#000"/>
<circle cx="339.2" cy="51.6" r="1.3" fill="#000"/>
<circle cx="348.3" cy="51.0" r="1.3" fill="#000"/>
<circle cx="348.3" cy="50.4" r="1.3" fill="#000"/>
<circle cx="357.4" cy="44.8" r="1.3" fill="#000"/>
<circle cx="357.4" cy="44.0" r="1.3" fill="#000"/>
<circle cx="362.0" cy="43.6" r="1.3" fill="#000"/>
<circle cx="362.0" cy="42.6" r="1.3" fill="#000"/>
<circle cx="362.0" cy="41.6" r="1.3" fill="#000"/>
<circle cx="366.5" cy="41.7" r="1.3" fill="#000"/>
<circle cx="375.6" cy="38.3" r="1.3" fill="#000"/>
<circle cx="384.8" cy="37.8" r="1.3" fill="#000"/>
<circle cx="384.8" cy="36.3" r="1.3" fill="#000"/>
<circle cx="384.8" cy="34.9" r="1.3" fill="#000"/>
<circle cx="393.9" cy="34.1" r="1.3" fill="#000"/>
<circle cx="403.0" cy="34.4" r="1.3" fill="#000"/>
<circle cx="403.0" cy="33.2" r="1.3" fill="#000"/>
<circle cx="403.0" cy="32.2" r="1.3" fill="#000"/>
<circle cx="407.5" cy="32.6" r="1.3" fill="#000"/>
<circle cx="407.5" cy="30.8" r="1.3" fill="#000"/>
<circle cx="407.5" cy="29.6" r="1.3" fill="#000"/>
<circle cx="412.1" cy="33.0" r="1.3" fill="#000"/>
<circle cx="412.1" cy="30.8" r="1.3" fill="#000"/>
<circle cx="412.1" cy="28.6" r="1.3" fill="#000"/>
<circle cx="421.2" cy="29.6" r="1.3" fill="#000"/>
<circle cx="421.2" cy="28.2" r="1.3" fill="#000"/>
<circle cx="421.2" cy="26.8" r="1.3" fill="#000"/>
<circle cx="430.3" cy="28.3" r="1.3" fill="#000"/>
<circle cx="430.3" cy="26.4" r="1.3" fill="#000"/>
<circle cx="430.3" cy="24.6" r="1.3" fill="#000"/>
<rect x="328.8" y="46.6" width="2.6" height="2.6" fill="#ee3008"/>
<rect x="319.7" y="49.7" width="2.6" height="2.6" fill="#ee3008"/>
<rect x="310.6" y="52.2" width="2.6" height="2.6" fill="#ee3008"/>
<rect x="301.5" y="55.5" width="2.6" height="2.6" fill="#ee3008"/>
<rect x="292.3" y="57.7" width="2.6" height="2.6" fill="#ee3008"/>
<rect x="283.2" y="59.9" width="2.6" height="2.6" fill="#ee3008"/>
<rect x="274.1" y="62.7" width="2.6" height="2.6" fill="#ee3008"/>
<rect x="265.0" y="65.9" width="2.6" height="2.6" fill="#ee3008"/>
<rect x="255.9" y="69.5" width="2.6" height="2.6" fill="#ee3008"/>
<rect x="328.8" y="47.7" width="2.6" height="2.6" fill="#0c1ce0"/>
<rect x="328.8" y="48.5" width="2.6" height="2.6" fill="#0c1ce0"/>
<rect x="319.7" y="50.8" width="2.6" height="2.6" fill="#0c1ce0"/>
<rect x="319.7" y="51.6" width="2.6" height="2.6" fill="#0c1ce0"/>
<rect x="310.6" y="53.3" width="2.6" height="2.6" fill="#0c1ce0"/>
<rect x="310.6" y="54.1" width="2.6" height="2.6" fill="#0c1ce0"/>
<rect x="301.5" y="56.6" width="2.6" height="2.6" fill="#0c1ce0"/>
<rect x="301.5" y="57.4" width="2.6" height="2.6" fill="#0c1ce0"/>
<rect x="292.3" y="58.8" width="2.6" height="2.6" fill="#0c1ce0"/>
<rect x="292.3" y="59.6" width="2.6" height="2.6" fill="#0c1ce0"/>
<rect x="283.2" y="61.0" width="2.6" height="2.6" fill="#0c1ce0"/>
<rect x="283.2" y="61.8" width="2.6" height="2.6" fill="#0c1ce0"/>
<rect x="274.1" y="63.8" width="2.6" height="2.6" fill="#0c1ce0"/>
<rect x="274.1" y="64.6" width="2.6" height="2.6" fill="#0c1ce0"/>
<rect x="265.0" y="67.0" width="2.6" height="2.6" fill="#0c1ce0"/>
<rect x="265.0" y="67.8" width="2.6" height="2.6" fill="#0c1ce0"/>
<rect x="255.9" y="70.6" width="2.6" height="2.6" fill="#0c1ce0"/>
<rect x="255.9" y="71.4" width="2.6" height="2.6" fill="#0c1ce0"/>
<rect x="360.7" y="37.7" width="2.6" height="2.6" fill="#ee3008"/>
<rect x="406.2" y="27.7" width="2.6" height="2.6" fill="#0c1ce0"/>
<rect x="429.0" y="22.3" width="2.6" height="2.6" fill="#0c1ce0"/>
<rect x="87.4" y="346.2" width="2.6" height="2.6" fill="#0c1ce0"/>
<path d="M339.2 45.6 L330.1 47.8 L321.0 50.9 L311.9 53.4 L302.8 56.7 L293.6 58.9 L284.5 61.1 L275.4 67.5 L266.3 70.7 L257.2 74.3 L248.1 86.1 L243.5 149.5 L243.5 162.6 L243.5 178.8 L239.0 229.7 L239.0 240.9 L239.0 248.8 L234.4 271.5 L234.4 273.8 L234.4 278.8 L229.9 285.5 L229.9 288.4 L229.9 291.2 L225.3 296.9 L225.3 298.6 L225.3 300.1 L220.8 302.6 L220.8 304.6 L220.8 306.6 L216.2 306.6 L216.2 307.8 L211.7 308.3 L211.7 310.3 L211.7 312.3 L207.1 310.0 L207.1 311.4 L202.5 312.4 L202.5 313.8 L193.4 315.6 L193.4 317.2 L184.3 320.5 L184.3 322.0 L184.3 323.7 L175.2 323.5 L175.2 325.5 L166.1 326.0 L166.1 328.0 L157.0 328.4 L157.0 330.4" stroke="#b030e8" stroke-width="0.5" fill="none" stroke-linejoin="round"/>
<path d="M157.0 332.6 L157.0 328.5 L166.1 328.0 L166.1 323.8 L175.2 328.1 L175.2 324.0 L184.3 323.0 L184.3 318.8 L193.4 323.3 L193.4 319.2 L202.5 318.2 L202.5 314.0 L211.7 318.4 L211.7 314.3 L220.8 311.7 L220.8 307.5 L229.9 311.0 L229.9 306.9 L239.0 305.0 L239.0 300.8 L243.5 298.6 L243.5 297.6 L248.1 290.2 L248.1 289.0 L252.7 235.7 L252.7 214.3 L252.7 202.1 L257.2 148.3 L257.2 140.5 L257.2 127.9 L261.8 104.0 L261.8 100.7 L261.8 94.2 L266.3 83.0 L266.3 81.6 L270.9 79.0 L270.9 78.1 L275.4 74.0 L275.4 73.0 L280.0 71.5 L280.0 70.6 L284.5 68.4 L284.5 67.2 L289.1 66.0 L289.1 65.0 L293.6 63.4 L293.6 62.4 L302.8 59.8 L302.8 58.2 L302.8 56.7 L311.9 55.6 L311.9 54.0 L311.9 52.7 L321.0 52.6 L321.0 51.4 L321.0 50.2 L330.1 49.6 L330.1 48.0 L330.1 46.6 L339.2 46.4 L339.2 45.2 L339.2 44.0" stroke="#b030e8" stroke-width="0.5" fill="none" stroke-linejoin="round"/>
<circle cx="339.2" cy="45.6" r="1.3" fill="#b030e8"/>
<circle cx="330.1" cy="47.8" r="1.3" fill="#b030e8"/>
<circle cx="321.0" cy="50.9" r="1.3" fill="#b030e8"/>
<circle cx="311.9" cy="53.4" r="1.3" fill="#b030e8"/>
<circle cx="302.8" cy="56.7" r="1.3" fill="#b030e8"/>
<circle cx="293.6" cy="58.9" r="1.3" fill="#b030e8"/>
<circle cx="284.5" cy="61.1" r="1.3" fill="#b030e8"/>
<circle cx="275.4" cy="67.5" r="1.3" fill="#b030e8"/>
<circle cx="266.3" cy="70.7" r="1.3" fill="#b030e8"/>
<circle cx="257.2" cy="74.3" r="1.3" fill="#b030e8"/>
<circle cx="248.1" cy="86.1" r="1.3" fill="#b030e8"/>
<circle cx="243.5" cy="149.5" r="1.3" fill="#b030e8"/>
<circle cx="243.5" cy="162.6" r="1.3" fill="#b030e8"/>
<circle cx="243.5" cy="178.8" r="1.3" fill="#b030e8"/>
<circle cx="239.0" cy="229.7" r="1.3" fill="#b030e8"/>
<circle cx="239.0" cy="240.9" r="1.3" fill="#b030e8"/>
<circle cx="239.0" cy="248.8" r="1.3" fill="#b030e8"/>
<circle cx="234.4" cy="271.5" r="1.3" fill="#b030e8"/>
<circle cx="234.4" cy="273.8" r="1.3" fill="#b030e8"/>
<circle cx="234.4" cy="278.8" r="1.3" fill="#b030e8"/>
<circle cx="229.9" cy="285.5" r="1.3" fill="#b030e8"/>
<circle cx="229.9" cy="288.4" r="1.3" fill="#b030e8"/>
<circle cx="229.9" cy="291.2" r="1.3" fill="#b030e8"/>
<circle cx="225.3" cy="296.9" r="1.3" fill="#b030e8"/>
<circle cx="225.3" cy="298.6" r="1.3" fill="#b030e8"/>
<circle cx="225.3" cy="300.1" r="1.3" fill="#b030e8"/>
<circle cx="220.8" cy="302.6" r="1.3" fill="#b030e8"/>
<circle cx="220.8" cy="304.6" r="1.3" fill="#b030e8"/>
<circle cx="220.8" cy="306.6" r="1.3" fill="#b030e8"/>
<circle cx="216.2" cy="306.6" r="1.3" fill="#b030e8"/>
<circle cx="216.2" cy="307.8" r="1.3" fill="#b030e8"/>
<circle cx="211.7" cy="308.3" r="1.3" fill="#b030e8"/>
<circle cx="211.7" cy="310.3" r="1.3" fill="#b030e8"/>
<circle cx="211.7" cy="312.3" r="1.3" fill="#b030e8"/>
<circle cx="207.1" cy="310.0" r="1.3" fill="#b030e8"/>
<circle cx="207.1" cy="311.4" r="1.3" fill="#b030e8"/>
<circle cx="202.5" cy="312.4" r="1.3" fill="#b030e8"/>
<circle cx="202.5" cy="313.8" r="1.3" fill="#b030e8"/>
<circle cx="193.4" cy="315.6" r="1.3" fill="#b030e8"/>
<circle cx="193.4" cy="317.2" r="1.3" fill="#b030e8"/>
<circle cx="184.3" cy="320.5" r="1.3" fill="#b030e8"/>
<circle cx="184.3" cy="322.0" r="1.3" fill="#b030e8"/>
<circle cx="184.3" cy="323.7" r="1.3" fill="#b030e8"/>
<circle cx="175.2" cy="323.5" r="1.3" fill="#b030e8"/>
<circle cx="175.2" cy="325.5" r="1.3" fill="#b030e8"/>
<circle cx="166.1" cy="326.0" r="1.3" fill="#b030e8"/>
<circle cx="166.1" cy="328.0" r="1.3" fill="#b030e8"/>
<circle cx="157.0" cy="328.4" r="1.3" fill="#b030e8"/>
<circle cx="157.0" cy="330.4" r="1.3" fill="#b030e8"/>
<circle cx="157.0" cy="332.6" r="1.3" fill="#b030e8"/>
<circle cx="157.0" cy="328.5" r="1.3" fill="#b030e8"/>
<circle cx="166.1" cy="328.0" r="1.3" fill="#b030e8"/>
<circle cx="166.1" cy="323.8" r="1.3" fill="#b030e8"/>
<circle cx="175.2" cy="328.1" r="1.3" fill="#b030e8"/>
<circle cx="175.2" cy="324.0" r="1.3" fill="#b030e8"/>
<circle cx="184.3" cy="323.0" r="1.3" fill="#b030e8"/>
<circle cx="184.3" cy="318.8" r="1.3" fill="#b030e8"/>
<circle cx="193.4" cy="323.3" r="1.3" fill="#b030e8"/>
<circle cx="193.4" cy="319.2" r="1.3" fill="#b030e8"/>
<circle cx="202.5" cy="318.2" r="1.3" fill="#b030e8"/>
<circle cx="202.5" cy="314.0" r="1.3" fill="#b030e8"/>
<circle cx="211.7" cy="318.4" r="1.3" fill="#b030e8"/>
<circle cx="211.7" cy="314.3" r="1.3" fill="#b030e8"/>
<circle cx="220.8" cy="311.7" r="1.3" fill="#b030e8"/>
<circle cx="220.8" cy="307.5" r="1.3" fill="#b030e8"/>
<circle cx="229.9" cy="311.0" r="1.3" fill="#b030e8"/>
<circle cx="229.9" cy="306.9" r="1.3" fill="#b030e8"/>
<circle cx="239.0" cy="305.0" r="1.3" fill="#b030e8"/>
<circle cx="239.0" cy="300.8" r="1.3" fill="#b030e8"/>
<circle cx="243.5" cy="298.6" r="1.3" fill="#b030e8"/>
<circle cx="243.5" cy="297.6" r="1.3" fill="#b030e8"/>
<circle cx="248.1" cy="290.2" r="1.3" fill="#b030e8"/>
<circle cx="248.1" cy="289.0" r="1.3" fill="#b030e8"/>
<circle cx="252.7" cy="235.7" r="1.3" fill="#b030e8"/>
<circle cx="252.7" cy="214.3" r="1.3" fill="#b030e8"/>
<circle cx="252.7" cy="202.1" r="1.3" fill="#b030e8"/>
<circle cx="257.2" cy="148.3" r="1.3" fill="#b030e8"/>
<circle cx="257.2" cy="140.5" r="1.3" fill="#b030e8"/>
<circle cx="257.2" cy="127.9" r="1.3" fill="#b030e8"/>
<circle cx="261.8" cy="104.0" r="1.3" fill="#b030e8"/>
<circle cx="261.8" cy="100.7" r="1.3" fill="#b030e8"/>
<circle cx="261.8" cy="94.2" r="1.3" fill="#b030e8"/>
<circle cx="266.3" cy="83.0" r="1.3" fill="#b030e8"/>
<circle cx="266.3" cy="81.6" r="1.3" fill="#b030e8"/>
<circle cx="270.9" cy="79.0" r="1.3" fill="#b030e8"/>
<circle cx="270.9" cy="78.1" r="1.3" fill="#b030e8"/>
<circle cx="275.4" cy="74.0" r="1.3" fill="#b030e8"/>
<circle cx="275.4" cy="73.0" r="1.3" fill="#b030e8"/>
<circle cx="280.0" cy="71.5" r="1.3" fill="#b030e8"/>
<circle cx="280.0" cy="70.6" r="1.3" fill="#b030e8"/>
<circle cx="284.5" cy="68.4" r="1.3" fill="#b030e8"/>
<circle cx="284.5" cy="67.2" r="1.3" fill="#b030e8"/>
<circle cx="289.1" cy="66.0" r="1.3" fill="#b030e8"/>
<circle cx="289.1" cy="65.0" r="1.3" fill="#b030e8"/>
<circle cx="293.6" cy="63.4" r="1.3" fill="#b030e8"/>
<circle cx="293.6" cy="62.4" r="1.3" fill="#b030e8"/>
<circle cx="302.8" cy="59.8" r="1.3" fill="#b030e8"/>
<circle cx="302.8" cy="58.2" r="1.3" fill="#b030e8"/>
<circle cx="302.8" cy="56.7" r="1.3" fill="#b030e8"/>
<circle cx="311.9" cy="55.6" r="1.3" fill="#b030e8"/>
<circle cx="311.9" cy="54.0" r="1.3" fill="#b030e8"/>
<circle cx="311.9" cy="52.7" r="1.3" fill="#b030e8"/>
<circle cx="321.0" cy="52.6" r="1.3" fill="#b030e8"/>
<circle cx="321.0" cy="51.4" r="1.3" fill="#b030e8"/>
<circle cx="321.0" cy="50.2" r="1.3" fill="#b030e8"/>
<circle cx="330.1" cy="49.6" r="1.3" fill="#b030e8"/>
<circle cx="330.1" cy="48.0" r="1.3" fill="#b030e8"/>
<circle cx="330.1" cy="46.6" r="1.3" fill="#b030e8"/>
<circle cx="339.2" cy="46.4" r="1.3" fill="#b030e8"/>
<circle cx="339.2" cy="45.2" r="1.3" fill="#b030e8"/>
<circle cx="339.2" cy="44.0" r="1.3" fill="#b030e8"/>
<path d="M430.3 21.6 L403.0 30.6 L339.2 48.2 L339.2 48.2 L330.1 50.4 L321.0 53.5 L311.9 56.0 L302.8 59.3 L293.6 62.5 L284.5 64.7 L275.4 67.5 L266.3 70.7 L257.2 74.4 L257.2 77.9 L257.2 81.0 L257.2 83.0 L252.7 92.4 L252.7 95.6 L252.7 98.4 L248.1 114.3 L248.1 120.7 L248.1 130.2 L243.5 280.8 L243.5 282.6 L239.0 296.0 L239.0 298.0 L239.0 300.0 L234.4 299.4 L234.4 300.8 L229.9 301.0 L229.9 303.0 L229.9 305.0 L225.3 303.4 L225.3 305.0 L225.3 306.6 L220.8 308.3 L220.8 310.4 L220.8 312.6 L211.7 311.5 L211.7 313.2 L211.7 314.8 L202.5 314.0 L202.5 316.0 L202.5 318.0 L193.4 315.6 L193.4 317.2 L193.4 318.8 L184.3 319.4 L184.3 321.0 L184.3 322.6 L175.2 322.5 L175.2 324.5 L175.2 326.5 L166.1 325.0 L166.1 327.0 L166.1 329.0 L157.0 327.4 L157.0 329.4 L157.0 331.4" stroke="#ff8010" stroke-width="0.5" fill="none" stroke-linejoin="round"/>
<path d="M65.9 353.6 L111.4 340.9 L157.0 331.0 L157.0 331.0 L157.0 329.0 L157.0 327.0 L166.1 329.0 L166.1 327.0 L166.1 325.0 L175.2 326.5 L175.2 324.5 L175.2 322.5 L184.3 321.6 L184.3 320.4 L193.4 319.3 L193.4 318.1 L202.5 316.8 L202.5 315.6 L211.7 314.4 L211.7 313.2 L220.8 310.3 L220.8 309.1 L229.9 307.0 L229.9 305.8 L239.0 303.6 L239.0 302.4 L243.5 282.6 L243.5 281.4 L248.1 260.5 L248.1 253.5 L248.1 247.1 L252.7 98.4 L252.7 95.6 L252.7 92.4 L257.2 83.0 L257.2 81.0 L257.2 77.9 L261.8 78.6 L261.8 77.9 L266.3 75.0 L266.3 74.0 L270.9 72.8 L270.9 71.9 L275.4 70.2 L275.4 69.2 L280.0 68.6 L280.0 67.8 L284.5 67.4 L284.5 66.6 L289.1 67.6 L289.1 66.4 L293.6 63.5 L293.6 62.5 L302.8 60.4 L302.8 59.2 L311.9 57.0 L311.9 56.0 L321.0 54.0 L321.0 53.0 L330.1 51.0 L330.1 50.0 L339.2 48.6 L339.2 47.6" stroke="#ff8010" stroke-width="0.5" fill="none" stroke-linejoin="round"/>
<circle cx="339.2" cy="48.2" r="1.35" fill="#ff8010"/>
<circle cx="330.1" cy="50.4" r="1.35" fill="#ff8010"/>
<circle cx="321.0" cy="53.5" r="1.35" fill="#ff8010"/>
<circle cx="311.9" cy="56.0" r="1.35" fill="#ff8010"/>
<circle cx="302.8" cy="59.3" r="1.35" fill="#ff8010"/>
<circle cx="293.6" cy="62.5" r="1.35" fill="#ff8010"/>
<circle cx="284.5" cy="64.7" r="1.35" fill="#ff8010"/>
<circle cx="275.4" cy="67.5" r="1.35" fill="#ff8010"/>
<circle cx="266.3" cy="70.7" r="1.35" fill="#ff8010"/>
<circle cx="257.2" cy="74.4" r="1.35" fill="#ff8010"/>
<circle cx="257.2" cy="77.9" r="1.35" fill="#ff8010"/>
<circle cx="257.2" cy="81.0" r="1.35" fill="#ff8010"/>
<circle cx="257.2" cy="83.0" r="1.35" fill="#ff8010"/>
<circle cx="252.7" cy="92.4" r="1.35" fill="#ff8010"/>
<circle cx="252.7" cy="95.6" r="1.35" fill="#ff8010"/>
<circle cx="252.7" cy="98.4" r="1.35" fill="#ff8010"/>
<circle cx="248.1" cy="114.3" r="1.35" fill="#ff8010"/>
<circle cx="248.1" cy="120.7" r="1.35" fill="#ff8010"/>
<circle cx="248.1" cy="130.2" r="1.35" fill="#ff8010"/>
<circle cx="243.5" cy="280.8" r="1.35" fill="#ff8010"/>
<circle cx="243.5" cy="282.6" r="1.35" fill="#ff8010"/>
<circle cx="239.0" cy="296.0" r="1.35" fill="#ff8010"/>
<circle cx="239.0" cy="298.0" r="1.35" fill="#ff8010"/>
<circle cx="239.0" cy="300.0" r="1.35" fill="#ff8010"/>
<circle cx="234.4" cy="299.4" r="1.35" fill="#ff8010"/>
<circle cx="234.4" cy="300.8" r="1.35" fill="#ff8010"/>
<circle cx="229.9" cy="301.0" r="1.35" fill="#ff8010"/>
<circle cx="229.9" cy="303.0" r="1.35" fill="#ff8010"/>
<circle cx="229.9" cy="305.0" r="1.35" fill="#ff8010"/>
<circle cx="225.3" cy="303.4" r="1.35" fill="#ff8010"/>
<circle cx="225.3" cy="305.0" r="1.35" fill="#ff8010"/>
<circle cx="225.3" cy="306.6" r="1.35" fill="#ff8010"/>
<circle cx="220.8" cy="308.3" r="1.35" fill="#ff8010"/>
<circle cx="220.8" cy="310.4" r="1.35" fill="#ff8010"/>
<circle cx="220.8" cy="312.6" r="1.35" fill="#ff8010"/>
<circle cx="211.7" cy="311.5" r="1.35" fill="#ff8010"/>
<circle cx="211.7" cy="313.2" r="1.35" fill="#ff8010"/>
<circle cx="211.7" cy="314.8" r="1.35" fill="#ff8010"/>
<circle cx="202.5" cy="314.0" r="1.35" fill="#ff8010"/>
<circle cx="202.5" cy="316.0" r="1.35" fill="#ff8010"/>
<circle cx="202.5" cy="318.0" r="1.35" fill="#ff8010"/>
<circle cx="193.4" cy="315.6" r="1.35" fill="#ff8010"/>
<circle cx="193.4" cy="317.2" r="1.35" fill="#ff8010"/>
<circle cx="193.4" cy="318.8" r="1.35" fill="#ff8010"/>
<circle cx="184.3" cy="319.4" r="1.35" fill="#ff8010"/>
<circle cx="184.3" cy="321.0" r="1.35" fill="#ff8010"/>
<circle cx="184.3" cy="322.6" r="1.35" fill="#ff8010"/>
<circle cx="175.2" cy="322.5" r="1.35" fill="#ff8010"/>
<circle cx="175.2" cy="324.5" r="1.35" fill="#ff8010"/>
<circle cx="175.2" cy="326.5" r="1.35" fill="#ff8010"/>
<circle cx="166.1" cy="325.0" r="1.35" fill="#ff8010"/>
<circle cx="166.1" cy="327.0" r="1.35" fill="#ff8010"/>
<circle cx="166.1" cy="329.0" r="1.35" fill="#ff8010"/>
<circle cx="157.0" cy="327.4" r="1.35" fill="#ff8010"/>
<circle cx="157.0" cy="329.4" r="1.35" fill="#ff8010"/>
<circle cx="157.0" cy="331.4" r="1.35" fill="#ff8010"/>
<circle cx="157.0" cy="331.0" r="1.35" fill="#ff8010"/>
<circle cx="157.0" cy="329.0" r="1.35" fill="#ff8010"/>
<circle cx="157.0" cy="327.0" r="1.35" fill="#ff8010"/>
<circle cx="166.1" cy="329.0" r="1.35" fill="#ff8010"/>
<circle cx="166.1" cy="327.0" r="1.35" fill="#ff8010"/>
<circle cx="166.1" cy="325.0" r="1.35" fill="#ff8010"/>
<circle cx="175.2" cy="326.5" r="1.35" fill="#ff8010"/>
<circle cx="175.2" cy="324.5" r="1.35" fill="#ff8010"/>
<circle cx="175.2" cy="322.5" r="1.35" fill="#ff8010"/>
<circle cx="184.3" cy="321.6" r="1.35" fill="#ff8010"/>
<circle cx="184.3" cy="320.4" r="1.35" fill="#ff8010"/>
<circle cx="193.4" cy="319.3" r="1.35" fill="#ff8010"/>
<circle cx="193.4" cy="318.1" r="1.35" fill="#ff8010"/>
<circle cx="202.5" cy="316.8" r="1.35" fill="#ff8010"/>
<circle cx="202.5" cy="315.6" r="1.35" fill="#ff8010"/>
<circle cx="211.7" cy="314.4" r="1.35" fill="#ff8010"/>
<circle cx="211.7" cy="313.2" r="1.35" fill="#ff8010"/>
<circle cx="220.8" cy="310.3" r="1.35" fill="#ff8010"/>
<circle cx="220.8" cy="309.1" r="1.35" fill="#ff8010"/>
<circle cx="229.9" cy="307.0" r="1.35" fill="#ff8010"/>
<circle cx="229.9" cy="305.8" r="1.35" fill="#ff8010"/>
<circle cx="239.0" cy="303.6" r="1.35" fill="#ff8010"/>
<circle cx="239.0" cy="302.4" r="1.35" fill="#ff8010"/>
<circle cx="243.5" cy="282.6" r="1.35" fill="#ff8010"/>
<circle cx="243.5" cy="281.4" r="1.35" fill="#ff8010"/>
<circle cx="248.1" cy="260.5" r="1.35" fill="#ff8010"/>
<circle cx="248.1" cy="253.5" r="1.35" fill="#ff8010"/>
<circle cx="248.1" cy="247.1" r="1.35" fill="#ff8010"/>
<circle cx="252.7" cy="98.4" r="1.35" fill="#ff8010"/>
<circle cx="252.7" cy="95.6" r="1.35" fill="#ff8010"/>
<circle cx="252.7" cy="92.4" r="1.35" fill="#ff8010"/>
<circle cx="257.2" cy="83.0" r="1.35" fill="#ff8010"/>
<circle cx="257.2" cy="81.0" r="1.35" fill="#ff8010"/>
<circle cx="257.2" cy="77.9" r="1.35" fill="#ff8010"/>
<circle cx="261.8" cy="78.6" r="1.35" fill="#ff8010"/>
<circle cx="261.8" cy="77.9" r="1.35" fill="#ff8010"/>
<circle cx="266.3" cy="75.0" r="1.35" fill="#ff8010"/>
<circle cx="266.3" cy="74.0" r="1.35" fill="#ff8010"/>
<circle cx="270.9" cy="72.8" r="1.35" fill="#ff8010"/>
<circle cx="270.9" cy="71.9" r="1.35" fill="#ff8010"/>
<circle cx="275.4" cy="70.2" r="1.35" fill="#ff8010"/>
<circle cx="275.4" cy="69.2" r="1.35" fill="#ff8010"/>
<circle cx="280.0" cy="68.6" r="1.35" fill="#ff8010"/>
<circle cx="280.0" cy="67.8" r="1.35" fill="#ff8010"/>
<circle cx="284.5" cy="67.4" r="1.35" fill="#ff8010"/>
<circle cx="284.5" cy="66.6" r="1.35" fill="#ff8010"/>
<circle cx="289.1" cy="67.6" r="1.35" fill="#ff8010"/>
<circle cx="289.1" cy="66.4" r="1.35" fill="#ff8010"/>
<circle cx="293.6" cy="63.5" r="1.35" fill="#ff8010"/>
<circle cx="293.6" cy="62.5" r="1.35" fill="#ff8010"/>
<circle cx="302.8" cy="60.4" r="1.35" fill="#ff8010"/>
<circle cx="302.8" cy="59.2" r="1.35" fill="#ff8010"/>
<circle cx="311.9" cy="57.0" r="1.35" fill="#ff8010"/>
<circle cx="311.9" cy="56.0" r="1.35" fill="#ff8010"/>
<circle cx="321.0" cy="54.0" r="1.35" fill="#ff8010"/>
<circle cx="321.0" cy="53.0" r="1.35" fill="#ff8010"/>
<circle cx="330.1" cy="51.0" r="1.35" fill="#ff8010"/>
<circle cx="330.1" cy="50.0" r="1.35" fill="#ff8010"/>
<circle cx="339.2" cy="48.6" r="1.35" fill="#ff8010"/>
<circle cx="339.2" cy="47.6" r="1.35" fill="#ff8010"/>
<rect x="66.0" y="6.3" width="364.4" height="364.0" fill="none" stroke="#000" stroke-width="1.4"/>
<path d="M66.00 370.3v-6.6M66.00 6.3v6.6M75.11 370.3v-3.8M75.11 6.3v3.8M84.22 370.3v-3.8M84.22 6.3v3.8M93.33 370.3v-3.8M93.33 6.3v3.8M102.44 370.3v-3.8M102.44 6.3v3.8M111.55 370.3v-6.6M111.55 6.3v6.6M120.66 370.3v-3.8M120.66 6.3v3.8M129.77 370.3v-3.8M129.77 6.3v3.8M138.88 370.3v-3.8M138.88 6.3v3.8M147.99 370.3v-3.8M147.99 6.3v3.8M157.10 370.3v-6.6M157.10 6.3v6.6M166.21 370.3v-3.8M166.21 6.3v3.8M175.32 370.3v-3.8M175.32 6.3v3.8M184.43 370.3v-3.8M184.43 6.3v3.8M193.54 370.3v-3.8M193.54 6.3v3.8M202.65 370.3v-6.6M202.65 6.3v6.6M211.76 370.3v-3.8M211.76 6.3v3.8M220.87 370.3v-3.8M220.87 6.3v3.8M229.98 370.3v-3.8M229.98 6.3v3.8M239.09 370.3v-3.8M239.09 6.3v3.8M248.20 370.3v-6.6M248.20 6.3v6.6M257.31 370.3v-3.8M257.31 6.3v3.8M266.42 370.3v-3.8M266.42 6.3v3.8M275.53 370.3v-3.8M275.53 6.3v3.8M284.64 370.3v-3.8M284.64 6.3v3.8M293.75 370.3v-6.6M293.75 6.3v6.6M302.86 370.3v-3.8M302.86 6.3v3.8M311.97 370.3v-3.8M311.97 6.3v3.8M321.08 370.3v-3.8M321.08 6.3v3.8M330.19 370.3v-3.8M330.19 6.3v3.8M339.30 370.3v-6.6M339.30 6.3v6.6M348.41 370.3v-3.8M348.41 6.3v3.8M357.52 370.3v-3.8M357.52 6.3v3.8M366.63 370.3v-3.8M366.63 6.3v3.8M375.74 370.3v-3.8M375.74 6.3v3.8M384.85 370.3v-6.6M384.85 6.3v6.6M393.96 370.3v-3.8M393.96 6.3v3.8M403.07 370.3v-3.8M403.07 6.3v3.8M412.18 370.3v-3.8M412.18 6.3v3.8M421.29 370.3v-3.8M421.29 6.3v3.8M430.40 370.3v-6.6M430.40 6.3v6.6M66.0 370.30h6.6M430.4 370.30h-6.6M66.0 357.30h3.8M430.4 357.30h-3.8M66.0 344.30h6.6M430.4 344.30h-6.6M66.0 331.30h3.8M430.4 331.30h-3.8M66.0 318.30h6.6M430.4 318.30h-6.6M66.0 305.30h3.8M430.4 305.30h-3.8M66.0 292.30h6.6M430.4 292.30h-6.6M66.0 279.30h3.8M430.4 279.30h-3.8M66.0 266.30h6.6M430.4 266.30h-6.6M66.0 253.30h3.8M430.4 253.30h-3.8M66.0 240.30h6.6M430.4 240.30h-6.6M66.0 227.30h3.8M430.4 227.30h-3.8M66.0 214.30h6.6M430.4 214.30h-6.6M66.0 201.30h3.8M430.4 201.30h-3.8M66.0 188.30h6.6M430.4 188.30h-6.6M66.0 175.30h3.8M430.4 175.30h-3.8M66.0 162.30h6.6M430.4 162.30h-6.6M66.0 149.30h3.8M430.4 149.30h-3.8M66.0 136.30h6.6M430.4 136.30h-6.6M66.0 123.30h3.8M430.4 123.30h-3.8M66.0 110.30h6.6M430.4 110.30h-6.6M66.0 97.30h3.8M430.4 97.30h-3.8M66.0 84.30h6.6M430.4 84.30h-6.6M66.0 71.30h3.8M430.4 71.30h-3.8M66.0 58.30h6.6M430.4 58.30h-6.6M66.0 45.30h3.8M430.4 45.30h-3.8M66.0 32.30h6.6M430.4 32.30h-6.6M66.0 19.30h3.8M430.4 19.30h-3.8M66.0 6.30h6.6M430.4 6.30h-6.6" stroke="#000" stroke-width="1.3" fill="none"/>
<text x="66.0" y="395.3" font-size="18" text-anchor="middle" fill="#000">-2</text>
<text x="111.5" y="395.3" font-size="18" text-anchor="middle" fill="#000">-1.5</text>
<text x="157.1" y="395.3" font-size="18" text-anchor="middle" fill="#000">-1</text>
<text x="202.6" y="395.3" font-size="18" text-anchor="middle" fill="#000">-0.5</text>
<text x="248.2" y="395.3" font-size="18" text-anchor="middle" fill="#000">0</text>
<text x="293.8" y="395.3" font-size="18" text-anchor="middle" fill="#000">0.5</text>
<text x="339.3" y="395.3" font-size="18" text-anchor="middle" fill="#000">1</text>
<text x="384.8" y="395.3" font-size="18" text-anchor="middle" fill="#000">1.5</text>
<text x="430.4" y="395.3" font-size="18" text-anchor="middle" fill="#000">2</text>
<text x="56.4" y="38.1" font-size="18" text-anchor="end" fill="#000">0.6</text>
<text x="56.4" y="90.1" font-size="18" text-anchor="end" fill="#000">0.4</text>
<text x="56.4" y="142.1" font-size="18" text-anchor="end" fill="#000">0.2</text>
<text x="56.4" y="194.1" font-size="18" text-anchor="end" fill="#000">0</text>
<text x="56.4" y="246.1" font-size="18" text-anchor="end" fill="#000">-0.2</text>
<text x="56.4" y="298.1" font-size="18" text-anchor="end" fill="#000">-0.4</text>
<text x="56.4" y="350.1" font-size="18" text-anchor="end" fill="#000">-0.6</text>
<text x="221.3" y="414.5" font-size="18" fill="#000">μ</text><text x="231.8" y="424.6" font-size="11" fill="#000">0</text><text x="238.7" y="414.5" font-size="18" fill="#000">H (T)</text>
<g transform="translate(17.3,226.8) rotate(-90)" fill="#000"><text x="0" y="0" font-size="18">M (μ</text><text x="36.6" y="10.6" font-size="11">B</text><text x="44.6" y="0" font-size="18">/Co)</text></g>
<text x="351.6" y="119.3" font-size="18" fill="#f5821f">1.5 K</text>
<text x="352.0" y="138" font-size="18" fill="#b44be0">1.2 K</text>
<text x="353.0" y="167.9" font-size="18" fill="#111">1 K</text>
<text x="352.0" y="196" font-size="18" fill="#1a9a2a">800 mK</text>
<text x="352.0" y="230.8" font-size="18" fill="#1a34e0">500 mK</text>
<text x="351.0" y="258.4" font-size="18" fill="#e0301a">70 mK</text>
</svg></body></html>
